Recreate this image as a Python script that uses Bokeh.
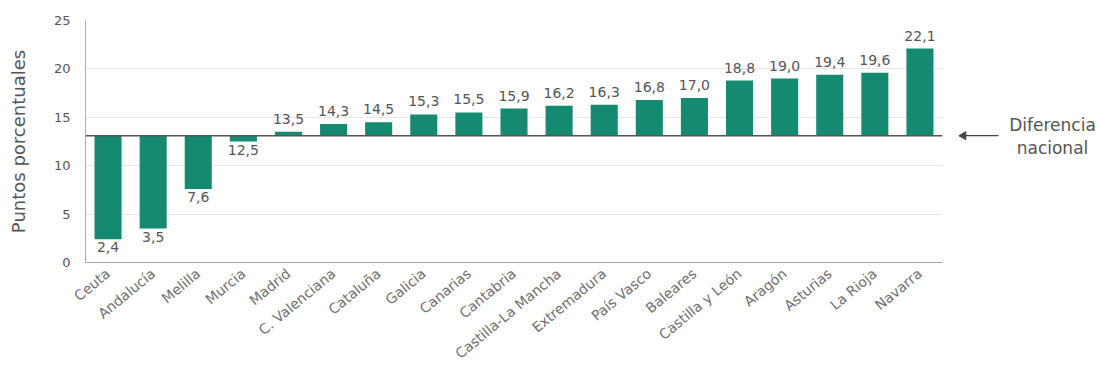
from bokeh.plotting import figure
from bokeh.layouts import row
from bokeh.models import ColumnDataSource, Span, FactorRange, FixedTicker, Range1d
from bokeh.embed import file_html
from bokeh.resources import INLINE
from bokeh.core.properties import value

regions = ["Ceuta", "Andalucía", "Melilla", "Murcia", "Madrid", "C. Valenciana",
           "Cataluña", "Galicia", "Canarias", "Cantabria", "Castilla-La Mancha",
           "Extremadura", "País Vasco", "Baleares", "Castilla y León", "Aragón",
           "Asturias", "La Rioja", "Navarra"]
diffs = [2.4, 3.5, 7.6, 12.5, 13.5, 14.3, 14.5, 15.3, 15.5, 15.9, 16.2,
         16.3, 16.8, 17.0, 18.8, 19.0, 19.4, 19.6, 22.1]
national = 13.1
national_label = ["Diferencia", "nacional"]
y_ticks = [0, 5, 10, 15, 20, 25]

FONT = "DejaVu Sans"
BAR = "#158a70"
TXT = "#555555"

labels = [f"{v:.1f}".replace(".", ",") for v in diffs]
src = ColumnDataSource(dict(
    region=regions, top=diffs, bottom=[national] * len(diffs), lab=labels))
up = ColumnDataSource(dict(
    region=[r for r, v in zip(regions, diffs) if v >= national],
    y=[v for v in diffs if v >= national],
    lab=[l for l, v in zip(labels, diffs) if v >= national]))
down = ColumnDataSource(dict(
    region=[r for r, v in zip(regions, diffs) if v < national],
    y=[v for v in diffs if v < national],
    lab=[l for l, v in zip(labels, diffs) if v < national]))

H = 371
TOP = 20
BOTTOM = 109

p = figure(x_range=FactorRange(*regions, range_padding=0), y_range=Range1d(0, 25),
           width=945, height=H, output_backend="svg", toolbar_location=None,
           min_border_left=85, min_border_right=3, min_border_top=TOP,
           min_border_bottom=BOTTOM)
p.outline_line_color = None

p.vbar(x="region", top="top", bottom="bottom", width=0.6, source=src,
       fill_color=BAR, line_color=None)

p.add_layout(Span(location=national, dimension="width", line_color="#555555",
                  line_width=1.5))

p.text(x="region", y="y", text="lab", source=up, text_align="center",
       text_baseline="bottom", y_offset=-8, text_font=value(FONT),
       text_font_size="14px", text_color=TXT)
p.text(x="region", y="y", text="lab", source=down, text_align="center",
       text_baseline="top", y_offset=3, text_font=value(FONT),
       text_font_size="14px", text_color=TXT)

p.yaxis.ticker = FixedTicker(ticks=y_ticks)
p.yaxis.axis_label = "Puntos porcentuales"
p.yaxis.axis_label_text_font = FONT
p.yaxis.axis_label_text_font_style = "normal"
p.yaxis.axis_label_text_font_size = "18px"
p.yaxis.axis_label_text_color = TXT
p.yaxis.axis_label_standoff = 22
p.yaxis.major_label_text_font = FONT
p.yaxis.major_label_text_font_size = "13px"
p.yaxis.major_label_text_color = TXT
p.yaxis.major_label_standoff = 9
p.yaxis.major_tick_line_color = None
p.yaxis.minor_tick_line_color = None
p.yaxis.axis_line_color = "#aaaaaa"

p.xaxis.major_label_orientation = 0.69
p.xaxis.major_label_text_font = FONT
p.xaxis.major_label_text_font_size = "14px"
p.xaxis.major_label_text_color = "#707070"
p.xaxis.major_label_standoff = 3
p.xaxis.major_tick_line_color = None
p.xaxis.axis_line_color = "#aaaaaa"

p.xgrid.grid_line_color = None
p.ygrid.ticker = FixedTicker(ticks=y_ticks)
p.ygrid.grid_line_color = "#e6e6e6"

# side panel with the national-difference annotation
q = figure(x_range=Range1d(0, 154), y_range=Range1d(0, 25), width=154, height=H,
           output_backend="svg", toolbar_location=None, min_border_left=0,
           min_border_right=0, min_border_top=TOP, min_border_bottom=BOTTOM)
q.axis.visible = False
q.grid.grid_line_color = None
q.outline_line_color = None
q.segment(x0=[14], y0=[national], x1=[53], y1=[national], line_color="#444444",
          line_width=1.3)
q.scatter(x=[18], y=[national], marker="triangle", angle=1.5708, size=8,
          fill_color="#444444", line_color="#444444")
q.text(x=[107, 107], y=[national, national], text=national_label,
       y_offset=[-11, 12], text_align="center", text_baseline="middle",
       text_font=value(FONT), text_font_size="17px", text_color=TXT)

open("out.html", "w").write(file_html(row(p, q), INLINE))
